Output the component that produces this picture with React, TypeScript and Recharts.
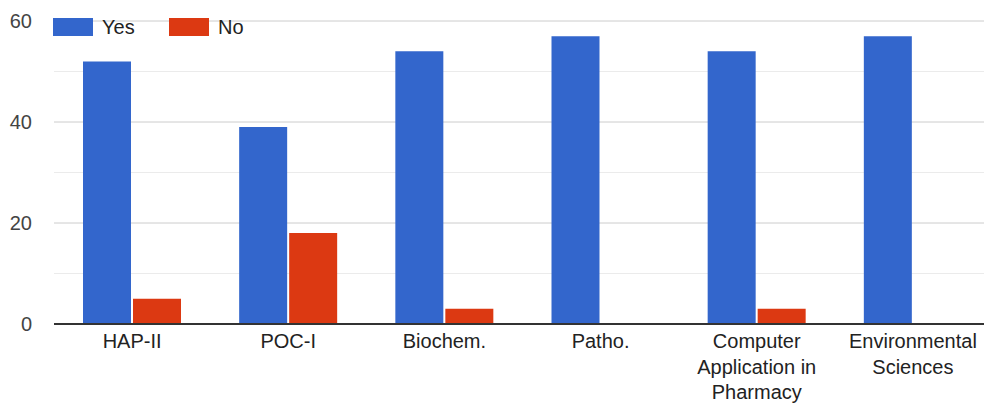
import React from "react";
import { BarChart, Bar, XAxis, YAxis, CartesianGrid, Text } from "recharts";

const categories = [
  "HAP-II",
  "POC-I",
  "Biochem.",
  "Patho.",
  "Computer Application in Pharmacy",
  "Environmental Sciences",
];
const yesValues = [52, 39, 54, 57, 54, 57];
const noValues = [5, 18, 3, 0, 3, 0];
const yTicks = [0, 20, 40, 60];
const minorTicks = [10, 30, 50];
const series = [
  { key: "yes", name: "Yes", color: "#3366CC" },
  { key: "no", name: "No", color: "#DC3912" },
];

const data = categories.map((c, i) => ({ name: c, yes: yesValues[i], no: noValues[i] }));

const FONT = "Arial, 'Liberation Sans', sans-serif";

const XTick = (props: any) => {
  const { x, y, payload } = props;
  return (
    <Text
      x={x}
      y={y}
      width={140}
      textAnchor="middle"
      verticalAnchor="start"
      lineHeight={25.5}
      fontSize={20}
      fontFamily={FONT}
      style={{ fontSize: 20, fontFamily: FONT }}
      fill="#222"
    >
      {payload.value}
    </Text>
  );
};

export default function App() {
  return (
    <div
      style={{
        position: "absolute",
        left: 0,
        top: 0,
        width: 984,
        height: 403,
        overflow: "hidden",
        background: "#fff",
      }}
    >
      <BarChart
        width={1000}
        height={403}
        data={data}
        margin={{ top: 21, right: 9, left: 0, bottom: 0 }}
        barCategoryGap={29}
        barGap={2}
      >
        <CartesianGrid vertical={false} stroke="#ebebeb" horizontalValues={minorTicks} />
        <CartesianGrid vertical={false} stroke="#cccccc" />
        <YAxis
          width={54}
          domain={[0, 60]}
          ticks={yTicks}
          axisLine={false}
          tickLine={false}
          tickSize={0}
          tickMargin={22}
          tick={{ fontSize: 20, fontFamily: FONT, fill: "#444" }}
        />
        {series.map((s) => (
          <Bar key={s.key} dataKey={s.key} name={s.name} fill={s.color} isAnimationActive={false} />
        ))}
        <XAxis
          dataKey="name"
          height={79}
          interval={0}
          tickLine={false}
          tickSize={0}
          tickMargin={10}
          axisLine={{ stroke: "#333", strokeWidth: 2 }}
          tick={<XTick />}
        />
      </BarChart>
      <svg
        width={984}
        height={60}
        style={{ position: "absolute", left: 0, top: 0, pointerEvents: "none" }}
      >
        {series.map((s, i) => {
          const x0 = 53 + i * 116;
          return (
            <g key={s.key}>
              <rect x={x0} y={18} width={40} height={18} fill={s.color} />
              <text x={x0 + 49} y={34.3} fontSize={20} fontFamily={FONT} fill="#222">
                {s.name}
              </text>
            </g>
          );
        })}
      </svg>
    </div>
  );
}
